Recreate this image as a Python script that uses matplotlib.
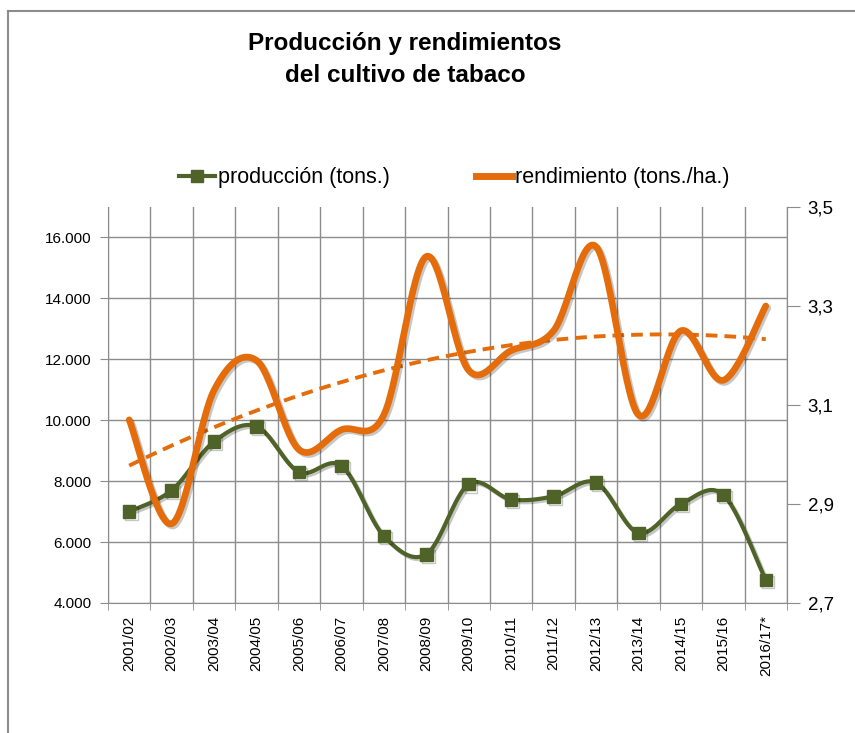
import numpy as np
import matplotlib
matplotlib.use("Agg")
import matplotlib.pyplot as plt
import matplotlib.patheffects as pe
from matplotlib.lines import Line2D
from matplotlib.ticker import FuncFormatter

plt.rcParams['font.family'] = ['Liberation Sans', 'DejaVu Sans']

campanas = ["2001/02", "2002/03", "2003/04", "2004/05", "2005/06", "2006/07",
            "2007/08", "2008/09", "2009/10", "2010/11", "2011/12", "2012/13",
            "2013/14", "2014/15", "2015/16", "2016/17*"]
produccion = [7000, 7700, 9300, 9800, 8300, 8500, 6200, 5600,
              7900, 7400, 7500, 7950, 6300, 7250, 7550, 4750]
rendimiento = [3.07, 2.86, 3.13, 3.19, 3.01, 3.05, 3.08, 3.40,
               3.17, 3.21, 3.25, 3.42, 3.08, 3.25, 3.15, 3.30]

verde = "#4F6228"
naranja = "#E46C0A"
gris = "#8C8C8C"


def suavizar(x, y, n=30):
    # curva suavizada tipo Excel (bezier con puntos de control a 1/6)
    x = np.asarray(x, float)
    y = np.asarray(y, float)
    px = np.concatenate([[x[0]], x, [x[-1]]])
    py = np.concatenate([[y[0]], y, [y[-1]]])
    xs, ys = [], []
    t = np.linspace(0, 1, n)
    for i in range(1, len(x)):
        p0 = np.array([px[i], py[i]])
        p3 = np.array([px[i + 1], py[i + 1]])
        p1 = p0 + (np.array([px[i + 1], py[i + 1]]) - np.array([px[i - 1], py[i - 1]])) / 6
        p2 = p3 - (np.array([px[i + 2], py[i + 2]]) - np.array([px[i], py[i]])) / 6
        b = ((1 - t) ** 3)[:, None] * p0 + (3 * (1 - t) ** 2 * t)[:, None] * p1 \
            + (3 * (1 - t) * t ** 2)[:, None] * p2 + (t ** 3)[:, None] * p3
        xs.extend(b[:, 0])
        ys.extend(b[:, 1])
    return np.array(xs), np.array(ys)


fig = plt.figure(figsize=(8.55, 7.33), dpi=100)
ax = fig.add_axes([108 / 855, 1 - 603 / 733, (787 - 108) / 855, (603 - 207) / 733])
ax2 = ax.twinx()

x = np.arange(len(campanas))
sombra = [pe.SimpleLineShadow(offset=(1.5, -1.5), alpha=0.22, rho=0.4), pe.Normal()]

xs, ys = suavizar(x, produccion)
ax.plot(xs, ys, color=verde, lw=3, zorder=3, path_effects=sombra)
ax.plot(x, produccion, ls="none", marker="s", ms=9, color=verde, zorder=4,
        path_effects=sombra)

xs, ys = suavizar(x, rendimiento)
ax2.plot(xs, ys, color=naranja, lw=4.8, solid_capstyle="round", zorder=3,
         path_effects=sombra)

# linea de tendencia polinomica (orden 2)
coef = np.polyfit(x + 1, rendimiento, 2)
xt = np.linspace(0, len(campanas) - 1, 200)
ax2.plot(xt, np.polyval(coef, xt + 1), color=naranja, lw=2.8, ls=(0, (3, 1.8)),
         zorder=2)

ax.set_xlim(-0.5, len(campanas) - 0.5)
ax.set_ylim(4000, 17000)
ax.set_yticks(np.arange(4000, 16001, 2000))
ax.yaxis.set_major_formatter(FuncFormatter(lambda v, p: f"{v:,.0f}".replace(",", ".")))
ax2.set_ylim(2.7, 3.5)
ax2.set_yticks([2.7, 2.9, 3.1, 3.3, 3.5])
ax2.yaxis.set_major_formatter(FuncFormatter(lambda v, p: f"{v:.1f}".replace(".", ",")))

ax.set_xticks(x)
ax.set_xticklabels(campanas, rotation=90, fontsize=11)
ax.set_xticks(np.arange(-0.5, len(campanas), 1), minor=True)
ax.tick_params(axis="x", which="major", length=0, pad=9)
ax.tick_params(axis="x", which="minor", length=5, color=gris)
ax.tick_params(axis="y", length=6, color=gris, labelsize=11, pad=6)
ax2.tick_params(axis="y", length=9, color=gris, labelsize=13.5, pad=6)

ax.grid(True, which="minor", axis="x", color=gris, lw=1)
ax.grid(True, which="major", axis="y", color=gris, lw=1)
ax.set_axisbelow(True)

for a in (ax, ax2):
    a.spines["top"].set_visible(False)
    for s in ("left", "right", "bottom"):
        a.spines[s].set_color(gris)
ax2.spines["left"].set_visible(False)
ax2.spines["bottom"].set_visible(False)

fig.text(405 / 855, 1 - 50 / 733, "Producción y rendimientos",
         ha="center", va="baseline", fontsize=17.5, fontweight="bold")
fig.text(405 / 855, 1 - 82 / 733, "del cultivo de tabaco",
         ha="center", va="baseline", fontsize=17.5, fontweight="bold")

handles = [Line2D([], [], color=verde, lw=3, marker="s", ms=9),
           Line2D([], [], color=naranja, lw=5)]
fig.legend(handles, ["producción (tons.)", "rendimiento (tons./ha.)"],
           loc="center", bbox_to_anchor=(454 / 855, 1 - 178 / 733), ncol=2,
           frameon=False, fontsize=15.5, handlelength=1.7, handletextpad=0.12,
           columnspacing=4.0)

# marco del grafico
fig.add_artist(Line2D([8 / 855, 1], [1 - 11 / 733, 1 - 11 / 733], color=gris, lw=1.5))
fig.add_artist(Line2D([8 / 855, 8 / 855], [0, 1 - 11 / 733], color=gris, lw=1.5))

fig.savefig("out.png", dpi=100)
